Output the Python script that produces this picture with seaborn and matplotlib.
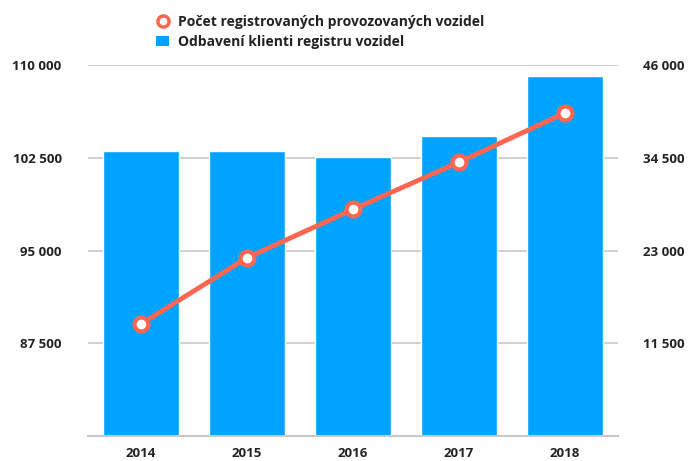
import matplotlib
matplotlib.use("Agg")
import matplotlib.pyplot as plt
import seaborn as sns
import pandas as pd
from matplotlib.ticker import FuncFormatter, FixedLocator
from matplotlib.lines import Line2D
from matplotlib.patches import Patch

years = ["2014", "2015", "2016", "2017", "2018"]
klienti = [103050, 103050, 102580, 104280, 109100]
vozidla = [13900, 22100, 28100, 33950, 40050]
left_ticks = [87500, 95000, 102500, 110000]
right_ticks = [11500, 23000, 34500, 46000]

bar_color = "#00A3FF"
line_color = "#FF6652"

sns.set_theme(style="white")
plt.rcParams["font.family"] = ["Open Sans", "DejaVu Sans"]

df = pd.DataFrame({"rok": years, "klienti": klienti, "vozidla": vozidla})
df["pos"] = range(len(df))

fig = plt.figure(figsize=(6.88, 4.61), dpi=100)
ax = fig.add_axes([0.128, 0.054, 0.77, 0.805])

sns.barplot(data=df, x="rok", y="klienti", color=bar_color, saturation=1,
            width=0.72, ax=ax, zorder=2)
ax.set_ylim(80000, 110000)
ax.set_xlim(-0.5, 4.5)
ax.yaxis.set_major_locator(FixedLocator(left_ticks))
fmt = FuncFormatter(lambda v, p: f"{int(v):,}".replace(",", " "))
ax.yaxis.set_major_formatter(fmt)
ax.grid(axis="y", color="#c8c8c8", linewidth=1.2, zorder=0)
ax.set_axisbelow(True)
ax.set_xlabel("")
ax.set_ylabel("")
for s in ["top", "left", "right"]:
    ax.spines[s].set_visible(False)
ax.spines["bottom"].set_color("#c8c8c8")
ax.spines["bottom"].set_linewidth(1.5)
ax.tick_params(axis="y", length=0, pad=19, labelsize=9.5)
ax.tick_params(axis="x", length=0, pad=8, labelsize=9.5)

ax2 = ax.twinx()
sns.lineplot(data=df, x="pos", y="vozidla", color=line_color, linewidth=3.5,
             marker="o", markersize=10, markerfacecolor="white",
             markeredgecolor=line_color, markeredgewidth=3, ax=ax2, zorder=3)
ax2.set_ylim(0, 46000)
ax2.set_xlim(-0.5, 4.5)
ax2.yaxis.set_major_locator(FixedLocator(right_ticks))
ax2.yaxis.set_major_formatter(fmt)
ax2.set_ylabel("")
ax2.set_xlabel("")
ax2.grid(False)
for s in ["top", "left", "right", "bottom"]:
    ax2.spines[s].set_visible(False)
ax2.tick_params(axis="y", length=0, pad=18, labelsize=9.5)

for t in ax.get_xticklabels() + ax.get_yticklabels() + ax2.get_yticklabels():
    t.set_fontweight("bold")
    t.set_color("#222222")

handles = [
    Line2D([], [], linestyle="none", marker="o", markersize=8,
           markerfacecolor="white", markeredgecolor=line_color, markeredgewidth=2.5),
    Patch(facecolor=bar_color, edgecolor="none"),
]
labels = ["Počet registrovaných provozovaných vozidel", "Odbavení klienti registru vozidel"]
leg = fig.legend(handles, labels, loc="upper left", bbox_to_anchor=(0.208, 0.995),
                 frameon=False, handlelength=1.0, handletextpad=0.6,
                 labelspacing=0.45, prop={"weight": "bold", "size": 10})
for t in leg.get_texts():
    t.set_color("#222222")

fig.savefig("out.png", dpi=100)
